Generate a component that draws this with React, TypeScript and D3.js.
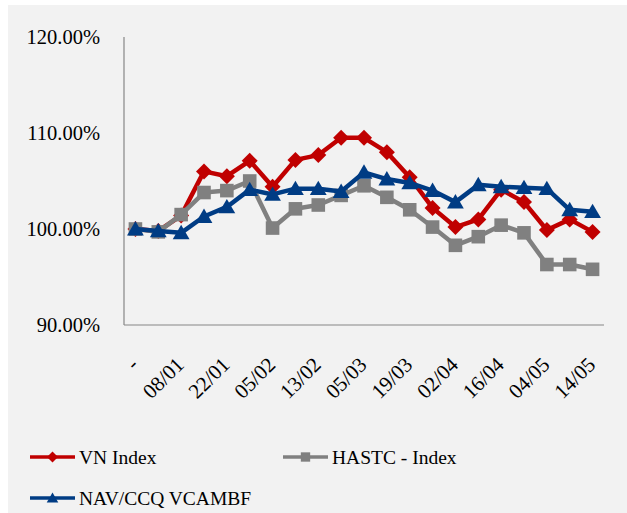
import React from 'react';
import * as d3 from 'd3';

// category slots (every second one is labelled)
const tickLabels = ['-', '08/01', '22/01', '05/02', '13/02', '05/03', '19/03', '02/04', '16/04', '04/05', '14/05'];

const vnIndex = [100, 99.8, 101.4, 106.0, 105.5, 107.1, 104.4, 107.2, 107.7, 109.5, 109.5, 108.0, 105.4, 102.2, 100.2, 101.0, 104.1, 102.8, 99.9, 101.0, 99.7];
const hastcIndex = [100, 99.7, 101.5, 103.8, 104.0, 105.0, 100.1, 102.1, 102.5, 103.5, 104.5, 103.3, 102.0, 100.2, 98.3, 99.2, 100.4, 99.6, 96.3, 96.3, 95.8];
const navVcambf = [100, 99.8, 99.6, 101.3, 102.3, 104.1, 103.6, 104.2, 104.2, 103.9, 105.9, 105.2, 104.8, 104.0, 102.8, 104.6, 104.4, 104.3, 104.2, 102.0, 101.8];

const yTicks = [90, 100, 110, 120];

const W = 627;
const H = 513;
const m = { left: 124, right: 604, top: 37, bottom: 325 };
const FONT = '"Liberation Serif", "Times New Roman", serif';

const series = [
  { name: 'VN Index', values: vnIndex, color: '#C00000', marker: 'diamond' },
  { name: 'HASTC - Index', values: hastcIndex, color: '#808080', marker: 'square' },
  { name: 'NAV/CCQ VCAMBF', values: navVcambf, color: '#003C84', marker: 'triangle' },
];

const markerPath = (type: string, s: number) => {
  if (type === 'diamond') return `M0,${-s}L${s},0L0,${s}L${-s},0Z`;
  if (type === 'square') return `M${-s * 0.85},${-s * 0.85}H${s * 0.85}V${s * 0.85}H${-s * 0.85}Z`;
  return `M0,${-s}L${s * 1.05},${s * 0.8}L${-s * 1.05},${s * 0.8}Z`;
};

export default function App() {
  const idx = d3.range(vnIndex.length);
  const x = d3.scalePoint<number>().domain(idx).range([m.left, m.right]).padding(0.5);
  const y = d3.scaleLinear().domain([90, 120]).range([m.bottom, m.top]);

  const line = (vals: number[]) =>
    d3.line<number>().x((_, i) => x(i)!).y(d => y(d))(vals) || '';

  return (
    <div style={{ position: 'absolute', left: 0, top: 0 }}>
      <svg width={W} height={H} style={{ display: 'block' }}>
        <rect x={0} y={0} width={W} height={H} fill="#ffffff" />
        <rect x={8} y={5} width={W - 8} height={H - 5} fill="#F2F2F2" />

        {/* axes */}
        <line x1={m.left} x2={m.left} y1={m.top} y2={m.bottom} stroke="#868686" strokeWidth={1.2} />
        <line x1={m.left} x2={m.right} y1={m.bottom} y2={m.bottom} stroke="#868686" strokeWidth={1.2} />

        {yTicks.map(t => (
          <text key={t} x={100} y={y(t)} dy="0.35em" textAnchor="end" fontFamily={FONT} fontSize={20.5} fill="#000">
            {t.toFixed(2)}%
          </text>
        ))}

        {tickLabels.map((lab, k) => {
          const px = x(k * 2)! + 4;
          return (
            <text key={k} transform={`translate(${px},366) rotate(-45)`} textAnchor="end" fontFamily={FONT} fontSize={21} fill="#000">
              {lab}
            </text>
          );
        })}

        {series.map(s => (
          <g key={s.name}>
            <path d={line(s.values)} fill="none" stroke={s.color} strokeWidth={4.5} strokeLinejoin="round" />
            {s.values.map((v, i) => (
              <path key={i} d={markerPath(s.marker, 8)} transform={`translate(${x(i)},${y(v)})`} fill={s.color} />
            ))}
          </g>
        ))}

        {/* legend */}
        {series.map((s, i) => {
          const lx = i === 1 ? 283 : 30;
          const ly = i === 2 ? 498 : 457;
          return (
            <g key={s.name} transform={`translate(${lx},${ly})`}>
              <line x1={0} x2={45} y1={0} y2={0} stroke={s.color} strokeWidth={3.5} />
              <path d={markerPath(s.marker, 5.5)} transform="translate(22.5,0)" fill={s.color} />
              <text x={49} y={0} dy="0.35em" fontFamily={FONT} fontSize={19.5} fill="#000">{s.name}</text>
            </g>
          );
        })}
      </svg>
    </div>
  );
}
